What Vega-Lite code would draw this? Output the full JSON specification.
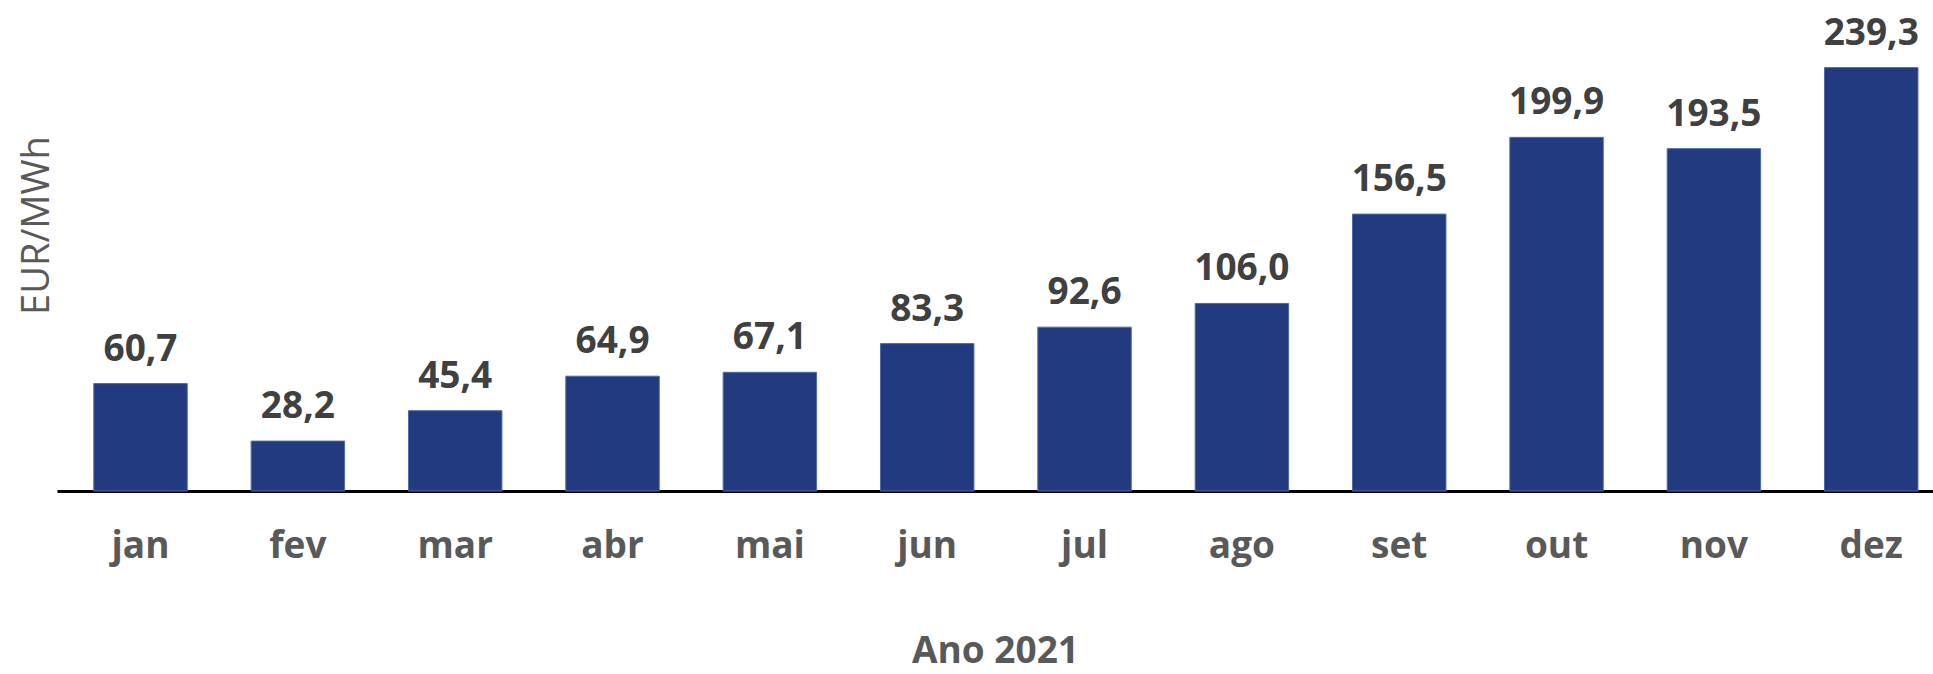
{
  "$schema": "https://vega.github.io/schema/vega-lite/v6.json",
  "width": 1876,
  "height": 460,
  "autosize": {"type": "none"},
  "padding": {"left": 57, "top": 31, "right": 0, "bottom": 183},
  "background": "white",
  "config": {"view": {"stroke": null}, "font": "Open Sans"},
  "data": {"values": [
    {"mes": "jan", "valor": 60.7, "rotulo": "60,7"},
    {"mes": "fev", "valor": 28.2, "rotulo": "28,2"},
    {"mes": "mar", "valor": 45.4, "rotulo": "45,4"},
    {"mes": "abr", "valor": 64.9, "rotulo": "64,9"},
    {"mes": "mai", "valor": 67.1, "rotulo": "67,1"},
    {"mes": "jun", "valor": 83.3, "rotulo": "83,3"},
    {"mes": "jul", "valor": 92.6, "rotulo": "92,6"},
    {"mes": "ago", "valor": 106.0, "rotulo": "106,0"},
    {"mes": "set", "valor": 156.5, "rotulo": "156,5"},
    {"mes": "out", "valor": 199.9, "rotulo": "199,9"},
    {"mes": "nov", "valor": 193.5, "rotulo": "193,5"},
    {"mes": "dez", "valor": 239.3, "rotulo": "239,3"}
  ]},
  "encoding": {
    "x": {
      "field": "mes", "type": "nominal", "sort": null,
      "scale": {"paddingInner": 0.406, "paddingOuter": 0.1647, "align": 0.71},
      "axis": {
        "title": "Ano 2021", "labelAngle": 0, "domainColor": "#000000", "domainWidth": 3,
        "ticks": false, "labelFont": "Open Sans", "labelFontSize": 37, "labelFontWeight": "bold",
        "labelColor": "#595959", "labelBaseline": "alphabetic", "labelPadding": 66,
        "titleFont": "Open Sans", "titleFontSize": 37, "titleFontWeight": "bold", "titleColor": "#595959",
        "titleBaseline": "alphabetic", "titleY": 171
      }
    },
    "y": {
      "field": "valor", "type": "quantitative",
      "scale": {"domain": [0, 260], "nice": false},
      "axis": {
        "title": "EUR/MWh", "domain": false, "ticks": false, "labels": false, "grid": false,
        "titleFont": "Open Sans", "titleFontSize": 38, "titleFontWeight": "normal", "titleColor": "#595959",
        "titleAngle": -90, "titleBaseline": "middle", "titleAlign": "center", "titleX": -20, "titleY": 194
      }
    }
  },
  "layer": [
    {"mark": {"type": "bar", "color": "#213B7E", "stroke": "#4F6AAE", "strokeWidth": 1}},
    {"mark": {"type": "text", "baseline": "alphabetic", "dy": -23, "font": "Open Sans", "fontSize": 37, "fontWeight": "bold", "color": "#404040"},
     "encoding": {"text": {"field": "rotulo"}}}
  ]
}
